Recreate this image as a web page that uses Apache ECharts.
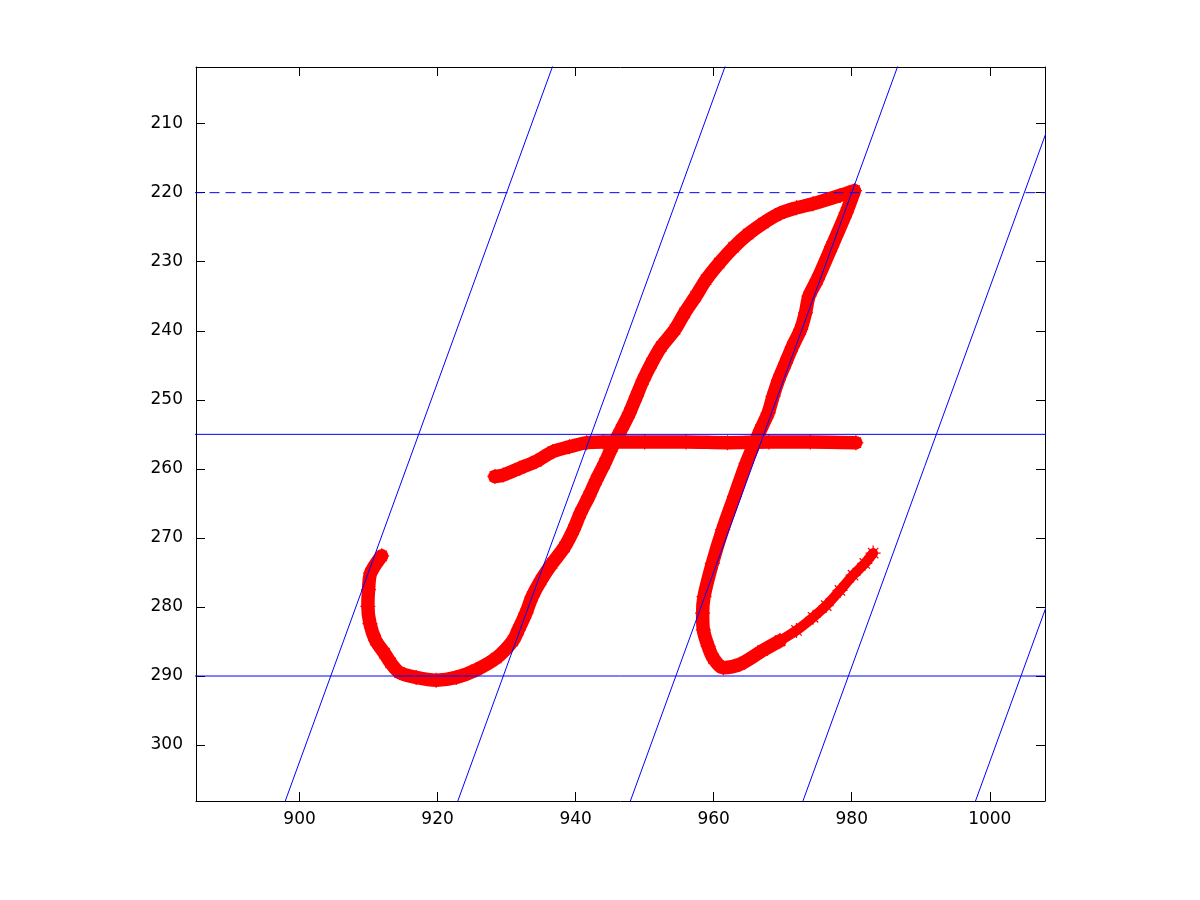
<!DOCTYPE html>
<html>
<head>
<meta charset="utf-8">
<script src="https://cdn.jsdelivr.net/npm/echarts@6/dist/echarts.min.js"></script>
<style>
html,body{margin:0;padding:0;background:#fff;}
#chart{width:1200px;height:900px;}
</style>
</head>
<body>
<div id="chart"></div>
<script>
// Tick labels
const xTicks = [900, 920, 940, 960, 980, 1000];
const yTicks = [210, 220, 230, 240, 250, 260, 270, 280, 290, 300];

// Main pen stroke (left hook, rising diagonal, top arc, right down-stroke, bottom curve)
const mainStroke = [
  [911.9,272.6],[910.3,275.1],[910.0,277.5],[909.9,279.9],[910.2,282.4],[911.0,284.8],
  [912.3,286.7],[913.2,288.1],[914.5,289.5],[916.9,290.2],[919.8,290.6],[922.7,290.2],
  [925.6,289.1],[928.5,287.4],[930.9,284.9],[931.7,283.3],[932.8,280.9],[933.7,278.5],
  [935.0,276.1],[936.6,273.7],[938.4,271.3],[939.7,268.8],[940.7,266.4],[941.9,264.0],
  [943.0,261.6],[944.2,259.2],[945.3,256.8],[946.6,254.3],[947.8,251.9],[948.8,249.5],
  [949.8,247.1],[951.0,244.7],[952.4,242.3],[954.4,239.8],[955.8,237.4],[957.4,235.0],
  [958.9,232.6],[960.8,230.2],[962.9,227.9],[965.0,226.0],[967.2,224.4],[969.6,223.0],
  [972.0,222.2],[974.4,221.6],[978.3,220.4],[980.4,219.7],
  [979.2,222.9],[977.1,227.8],[975.0,232.6],[973.8,235.0],[973.3,237.4],[972.6,239.8],
  [971.4,242.3],[970.4,244.7],[969.4,247.1],[968.6,249.5],[967.9,251.9],[966.8,254.3],
  [964.7,259.2],[963.0,264.0],[961.3,268.8],[959.8,273.7],[958.6,278.5],[958.4,280.9],
  [958.5,283.3],[959.2,285.7],[960.0,287.5],[961.4,288.8],[963.8,288.3],[967.1,286.3],
  [969.6,284.9]
];
// Thinner exit tail of the right stroke
const tailStroke = [
  [969.6,284.9],[972.0,283.4],[974.4,281.5],[976.3,279.8],[978.3,277.6],[980.2,275.4],
  [981.9,273.7],[983.1,272.2]
];
// Crossbar stroke
const crossBar = [
  [928.3,261.1],[929.5,260.9],[931.9,259.9],[934.3,258.9],[936.7,257.5],[939.1,256.8],
  [941.6,256.2],[944.0,256.1],[950.0,256.1],[956.0,256.1],[962.0,256.2],[968.0,256.1],
  [974.0,256.1],[980.6,256.2]
];

// Guide lines
const headLine = [[880,220],[1010,220]];
const midLine  = [[880,255],[1010,255]];
const baseLine = [[880,290],[1010,290]];
const slantLines = [
  [[937.28,200],[897.24,310]],
  [[962.28,200],[922.24,310]],
  [[987.28,200],[947.24,310]],
  [[1012.28,200],[972.24,310]],
  [[1037.28,200],[997.24,310]]
];

const X_MIN = 885, X_MAX = 1008, Y_MIN = 201.8, Y_MAX = 308.1;

const starPath = 'path://M0 11H24V13H0Z M11 0H13V24H11Z M3 4.4L4.4 3L21 19.6L19.6 21Z M19.6 3L21 4.4L4.4 21L3 19.6Z';

const chart = echarts.init(document.getElementById('chart'), null, {renderer: 'canvas'});

const labelFont = {color: '#000', fontSize: 17, fontFamily: 'DejaVu Sans', formatter: v => String(v)};

function penSeries(data, width, size) {
  return {
    type: 'line', data: data, z: 2, smooth: 0.3,
    lineStyle: {color: '#ff0000', width: width, cap: 'round', join: 'round'},
    symbol: starPath, symbolSize: size, showSymbol: true, showAllSymbol: true,
    itemStyle: {color: '#ff0000'},
    emphasis: {disabled: true}, silent: true
  };
}
function guideSeries(data, dashed) {
  return {
    type: 'line', data: data, z: 5, clip: true,
    lineStyle: {color: '#0000ff', width: 1, type: dashed ? [10, 6] : 'solid'},
    symbol: 'none', silent: true, emphasis: {disabled: true}
  };
}

const series = [
  penSeries(mainStroke, 13.5, 15),
  penSeries(tailStroke, 10, 15),
  penSeries(crossBar, 13.5, 15),
  guideSeries(headLine, true),
  guideSeries(midLine, false),
  guideSeries(baseLine, false)
];
slantLines.forEach(l => series.push(guideSeries(l, false)));

const axisLine = {show: true, onZero: false, lineStyle: {color: '#000', width: 1}};

chart.setOption({
  animation: false,
  backgroundColor: '#fff',
  grid: {left: 196, top: 67, width: 849, height: 734},
  xAxis: [
    {type: 'value', position: 'bottom', min: X_MIN, max: X_MAX,
     axisLine: axisLine,
     axisTick: {show: true, inside: true, length: 9, customValues: xTicks, lineStyle: {color: '#000'}},
     axisLabel: Object.assign({customValues: xTicks, margin: 10}, labelFont),
     splitLine: {show: false}},
    {type: 'value', position: 'top', min: X_MIN, max: X_MAX,
     axisLine: axisLine,
     axisTick: {show: true, inside: true, length: 9, customValues: xTicks, lineStyle: {color: '#000'}},
     axisLabel: {show: false}, splitLine: {show: false}}
  ],
  yAxis: [
    {type: 'value', position: 'left', inverse: true, min: Y_MIN, max: Y_MAX,
     axisLine: axisLine,
     axisTick: {show: true, inside: true, length: 9, customValues: yTicks, lineStyle: {color: '#000'}},
     axisLabel: Object.assign({customValues: yTicks, margin: 13}, labelFont),
     splitLine: {show: false}},
    {type: 'value', position: 'right', inverse: true, min: Y_MIN, max: Y_MAX,
     axisLine: axisLine,
     axisTick: {show: true, inside: true, length: 9, customValues: yTicks, lineStyle: {color: '#000'}},
     axisLabel: {show: false}, splitLine: {show: false}}
  ],
  series: series
});
</script>
</body>
</html>
